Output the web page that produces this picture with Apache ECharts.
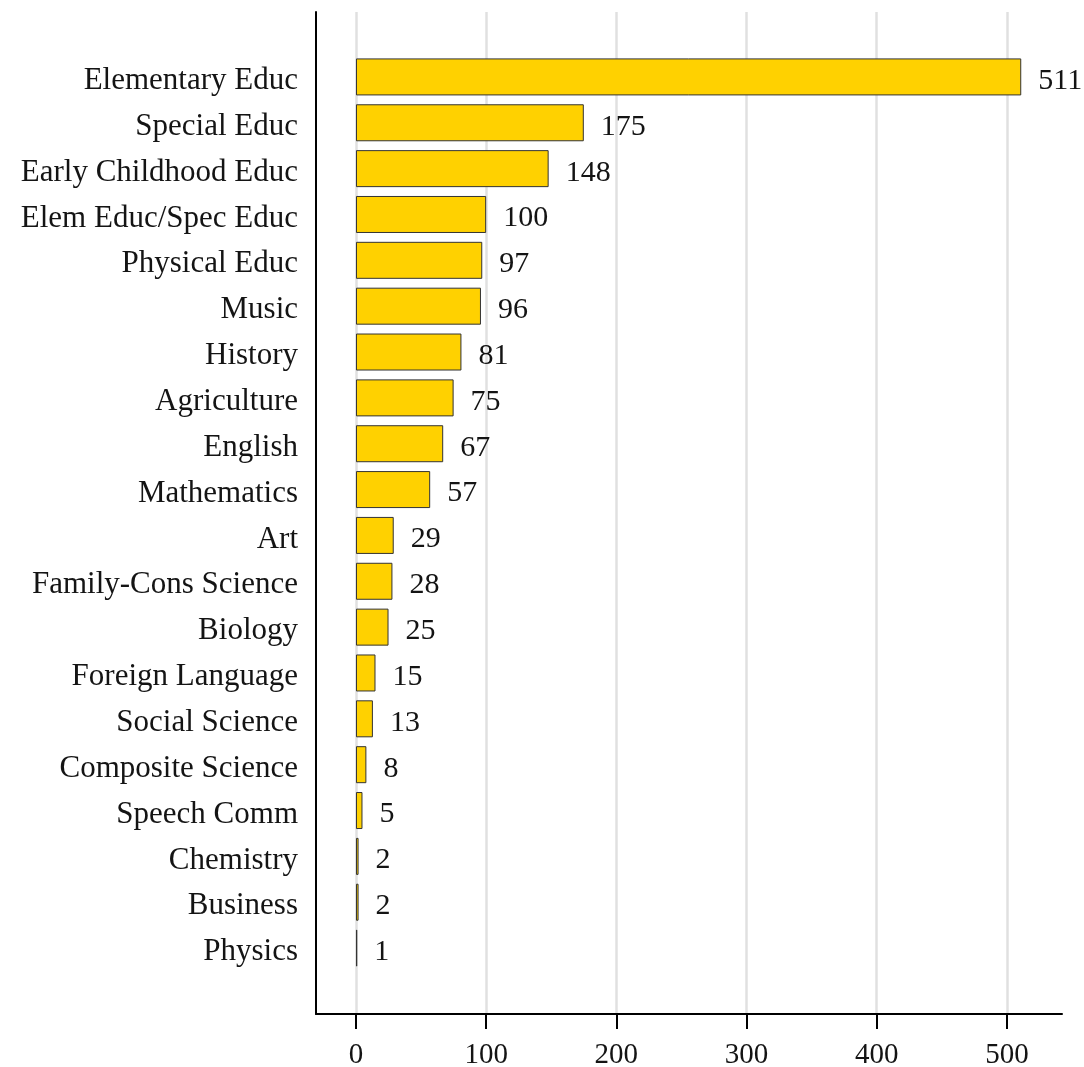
<!DOCTYPE html>
<html>
<head>
<meta charset="utf-8">
<script src="https://cdn.jsdelivr.net/npm/echarts@6/dist/echarts.min.js"></script>
<style>
html,body{margin:0;padding:0;background:#fff;}
#chart{width:1084px;height:1067px;}
</style>
</head>
<body>
<div id="chart"></div>
<script>
const categories = ["Elementary Educ","Special Educ","Early Childhood Educ","Elem Educ/Spec Educ","Physical Educ","Music","History","Agriculture","English","Mathematics","Art","Family-Cons Science","Biology","Foreign Language","Social Science","Composite Science","Speech Comm","Chemistry","Business","Physics"];
const values = [511,175,148,100,97,96,81,75,67,57,29,28,25,15,13,8,5,2,2,1];
const xTicks = [0,100,200,300,400,500];
const xMin = -30.7, xMax = 542.3;

const FONT = "Liberation Serif";
const chart = echarts.init(document.getElementById('chart'), null, {renderer:'canvas'});
chart.setOption({
  animation:false,
  backgroundColor:'#ffffff',
  textStyle:{fontFamily:FONT},
  grid:[
    {left:316, right:22, top:12, bottom:53, containLabel:false, outerBoundsMode:'none'},
    {left:316, right:22, top:54, height:917, containLabel:false, outerBoundsMode:'none'}
  ],
  xAxis:[
    {type:'value', gridIndex:0, min:xMin, max:xMax,
     axisLine:{show:true, onZero:false, lineStyle:{color:'#000', width:2}},
     axisTick:{show:true, length:15, lineStyle:{color:'#000', width:2}, customValues:xTicks},
     axisLabel:{show:true, margin:27, fontSize:29, color:'#141414', fontFamily:FONT, customValues:xTicks},
     splitLine:{show:true, lineStyle:{color:'#e0e0e0', width:2.5}}
    },
    {type:'value', gridIndex:1, min:xMin, max:xMax, show:false,
     splitLine:{show:false}}
  ],
  yAxis:[
    {type:'value', gridIndex:0, min:0, max:1,
     axisLine:{show:true, onZero:false, lineStyle:{color:'#000', width:2}},
     axisTick:{show:false}, axisLabel:{show:false}, splitLine:{show:false}},
    {type:'category', gridIndex:1, data:categories, inverse:true,
     axisLine:{show:false}, axisTick:{show:false}, splitLine:{show:false},
     axisLabel:{show:true, margin:18, fontSize:31, color:'#141414', fontFamily:FONT, interval:0,
                verticalAlign:'top', lineHeight:8}}
  ],
  series:[{
    type:'bar', xAxisIndex:1, yAxisIndex:1, data:values,
    barWidth:37,
    itemStyle:{color:'#FFD100', borderColor:'#333', borderWidth:1},
    label:{show:true, position:'right', distance:17, offset:[0,4], fontSize:30, color:'#141414', fontFamily:FONT}
  }]
});
</script>
</body>
</html>
